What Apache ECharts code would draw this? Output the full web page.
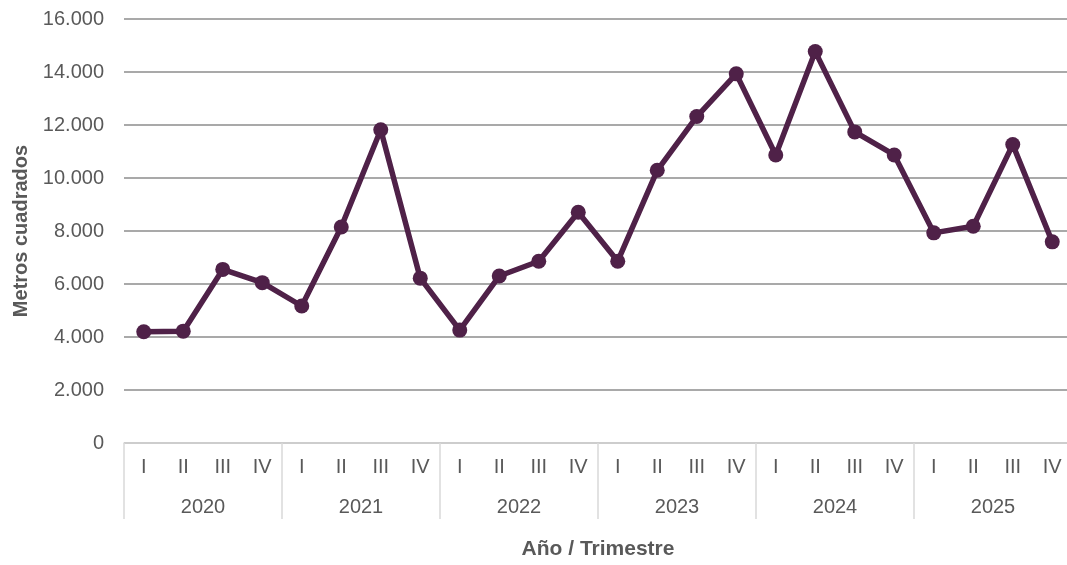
<!DOCTYPE html>
<html>
<head>
<meta charset="utf-8">
<script src="https://cdn.jsdelivr.net/npm/echarts@6/dist/echarts.min.js"></script>
<style>html,body{margin:0;padding:0;background:#fff;overflow:hidden;}#c{width:1072px;height:565px;}</style>
</head>
<body>
<div id="c"></div>
<script>
const quarters = ['I','II','III','IV','I','II','III','IV','I','II','III','IV','I','II','III','IV','I','II','III','IV','I','II','III','IV'];
const years = ['2020','2021','2022','2023','2024','2025'];
const values = [4200, 4220, 6550, 6050, 5170, 8150, 11820, 6220, 4260, 6300, 6860, 8710,
                6860, 10290, 12320, 13930, 10870, 14770, 11740, 10870, 7930, 8180, 11260, 7590];
const yTicks = [0, 2000, 4000, 6000, 8000, 10000, 12000, 14000, 16000];

const chart = echarts.init(document.getElementById('c'));
const font = 'Liberation Sans, Arial, sans-serif';
chart.setOption({
  animation: false,
  grid: { left: 124, top: 19, right: 0, height: 425, containLabel: false },
  xAxis: [
    {
      type: 'category', data: quarters, position: 'bottom', boundaryGap: true,
      axisLine: { show: true, lineStyle: { color: '#d9d9d9', width: 1.5 } },
      axisTick: { show: false },
      axisLabel: { color: '#595959', fontSize: 20, fontFamily: font, margin: 14, interval: 0 },
      splitLine: { show: false }
    },
    {
      type: 'category', data: years, position: 'bottom', boundaryGap: true,
      axisLine: { show: false },
      axisTick: { show: true, length: 76, lineStyle: { color: '#d9d9d9', width: 1.5 } },
      axisLabel: { color: '#595959', fontSize: 20, fontFamily: font, margin: 54, interval: 0 },
      name: 'Año / Trimestre', nameLocation: 'middle', nameGap: 96,
      nameTextStyle: { color: '#595959', fontSize: 21, fontWeight: 'bold', fontFamily: font }
    }
  ],
  yAxis: {
    type: 'value', min: yTicks[0], max: yTicks[yTicks.length - 1], interval: 2000,
    name: 'Metros cuadrados', nameLocation: 'middle', nameGap: 90, nameRotate: 90,
    nameTextStyle: { color: '#595959', fontSize: 20, fontWeight: 'bold', fontFamily: font },
    axisLine: { show: false }, axisTick: { show: false },
    axisLabel: {
      color: '#595959', fontSize: 20, fontFamily: font, margin: 20,
      formatter: v => v.toString().replace(/\B(?=(\d{3})+(?!\d))/g, '.')
    },
    splitLine: { lineStyle: { color: '#8c8c8c', width: 1.5 } }
  },
  series: [{
    type: 'line', data: values, xAxisIndex: 0,
    lineStyle: { color: '#4f2148', width: 5.5 },
    itemStyle: { color: '#4f2148' },
    symbol: 'circle', symbolSize: 15,
    z: 5
  }]
});
</script>
</body>
</html>
